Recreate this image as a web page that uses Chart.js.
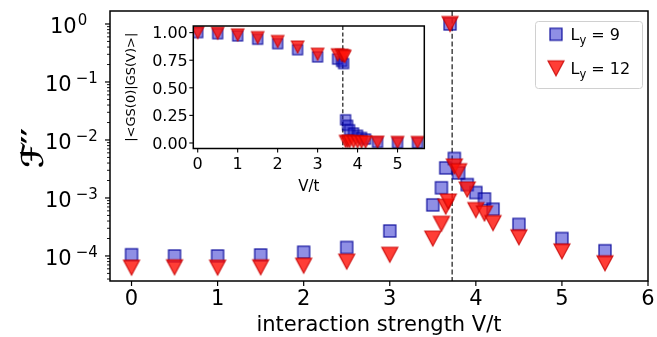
<!DOCTYPE html>
<html>
<head>
<meta charset="utf-8">
<script src="https://cdn.jsdelivr.net/npm/chart.js@4/dist/chart.umd.min.js"></script>
<style>
  html, body { margin:0; padding:0; background:#fff; }
  #wrap { position:relative; width:657px; height:337px; }
  #main  { position:absolute; left:0; top:0; }
  #inset { position:absolute; left:118px; top:18px; }
</style>
</head>
<body>
<div id="wrap">
  <canvas id="main" width="657" height="337"></canvas>
  <canvas id="inset" width="315" height="182"></canvas>
</div>
<script>
// ── data ───────────────────────────────────────────────────────────────────
const V_LY9  = [0, 0.5, 1, 1.5, 2, 2.5, 3, 3.5, 3.6, 3.65, 3.7, 3.75, 3.8, 3.9, 4.0, 4.1, 4.2, 4.5, 5, 5.5];
const F_LY9  = [1.05e-4, 1.0e-4, 1.0e-4, 1.04e-4, 1.16e-4, 1.4e-4, 2.7e-4, 7.6e-4, 1.5e-3, 3.3e-3, 1.0,
                4.8e-3, 2.7e-3, 1.7e-3, 1.24e-3, 9.6e-4, 6.4e-4, 3.5e-4, 2.0e-4, 1.23e-4];
const V_LY12 = [0, 0.5, 1, 1.5, 2, 2.5, 3, 3.5, 3.6, 3.65, 3.68, 3.7, 3.75, 3.8, 3.9, 4.0, 4.1, 4.2, 4.5, 5, 5.5];
const F_LY12 = [6.3e-5, 6.4e-5, 6.3e-5, 6.4e-5, 6.8e-5, 8.0e-5, 1.05e-4, 2.0e-4, 3.6e-4, 7.1e-4, 8.7e-4, 1.0,
                3.5e-3, 2.9e-3, 1.4e-3, 6.2e-4, 5.4e-4, 3.7e-4, 2.1e-4, 1.2e-4, 7.5e-5];

// inset: |<GS(0)|GS(V)>|
const GS_LY9  = [1.00, 0.99, 0.97, 0.94, 0.90, 0.845, 0.78, 0.76, 0.74, 0.72, 0.21,
                 0.16, 0.12, 0.09, 0.07, 0.05, 0.035, 0.006, 0.002, 0.001];
const GS_LY12 = [1.00, 0.995, 0.98, 0.955, 0.92, 0.87, 0.805, 0.80, 0.795, 0.79, 0.785, 0.015,
                 0.014, 0.013, 0.012, 0.011, 0.010, 0.010, 0.008, 0.006, 0.005];

const V_CRIT_MAIN  = 3.725;
const V_CRIT_INSET = 3.63;

const X_TICKS    = [0, 1, 2, 3, 4, 5, 6];
const Y_DECADES  = [-4, -3, -2, -1, 0];
const XI_TICKS   = [0, 1, 2, 3, 4, 5];
const YI_TICKS   = [0, 0.25, 0.5, 0.75, 1];
const YI_LABELS  = ['0.00', '0.25', '0.50', '0.75', '1.00'];
const SERIES     = ['9', '12'];

// ── styles ─────────────────────────────────────────────────────────────────
const FONT     = '"DejaVu Sans"';
const SQ_FACE  = 'rgba(20,20,200,0.48)';
const SQ_EDGE  = 'rgba(0,0,150,0.85)';
const TR_FACE  = 'rgba(255,20,10,0.82)';
const TR_EDGE  = 'rgba(200,0,0,0.85)';
Chart.defaults.font.family = 'DejaVu Sans';

function makeSquare(side, lw) {
  const s = Math.ceil(side + lw + 4);
  const c = document.createElement('canvas'); c.width = c.height = s;
  const g = c.getContext('2d'), o = (s - side) / 2;
  g.fillStyle = SQ_FACE; g.fillRect(o, o, side, side);
  g.strokeStyle = SQ_EDGE; g.lineWidth = lw; g.strokeRect(o, o, side, side);
  return c;
}
function makeTri(w, h, lw) {
  const cw = Math.ceil(w + lw + 4), ch = Math.ceil(h + lw + 4);
  const c = document.createElement('canvas'); c.width = cw; c.height = ch;
  const g = c.getContext('2d');
  g.beginPath();
  g.moveTo(cw/2 - w/2, ch/2 - h/2); g.lineTo(cw/2 + w/2, ch/2 - h/2); g.lineTo(cw/2, ch/2 + h/2);
  g.closePath();
  g.fillStyle = TR_FACE; g.fill();
  g.strokeStyle = TR_EDGE; g.lineWidth = lw; g.lineJoin = 'miter'; g.stroke();
  return c;
}
const SQ_BIG = makeSquare(12, 1.3), TR_BIG = makeTri(16, 15, 1.2);
const SQ_SM  = makeSquare(10, 1.2), TR_SM  = makeTri(12.5, 12, 1.1);

const pts = (xs, ys) => xs.map((v, i) => ({ x: v, y: ys[i] }));

function vline(ctx, a, px, dash) {
  ctx.save();
  ctx.strokeStyle = '#454545'; ctx.lineWidth = 1.5; ctx.setLineDash(dash);
  ctx.beginPath(); ctx.moveTo(px, a.top); ctx.lineTo(px, a.bottom); ctx.stroke();
  ctx.restore();
}

// ── main plot decorations ──────────────────────────────────────────────────
const mainDecor = {
  id: 'mainDecor',
  beforeDatasetsDraw(chart) {
    const { ctx, chartArea: a, scales: { x } } = chart;
    vline(ctx, a, x.getPixelForValue(V_CRIT_MAIN), [5, 2.6]);
  },
  afterDraw(chart) {
    const { ctx, chartArea: a, scales: { x, y } } = chart;
    ctx.save();
    ctx.fillStyle = '#000'; ctx.strokeStyle = '#000';

    // ticks
    ctx.lineWidth = 1.2;
    X_TICKS.forEach(t => {
      const px = x.getPixelForValue(t);
      ctx.beginPath(); ctx.moveTo(px, a.bottom); ctx.lineTo(px, a.bottom + 5); ctx.stroke();
    });
    Y_DECADES.forEach(d => {
      const py = y.getPixelForValue(Math.pow(10, d));
      ctx.beginPath(); ctx.moveTo(a.left, py); ctx.lineTo(a.left - 5, py); ctx.stroke();
    });
    ctx.lineWidth = 0.9;
    for (let d = -5; d <= 0; d++) {
      for (let m = 2; m <= 9; m++) {
        const v = m * Math.pow(10, d);
        if (v < y.min || v > y.max) continue;
        const py = y.getPixelForValue(v);
        ctx.beginPath(); ctx.moveTo(a.left, py); ctx.lineTo(a.left - 3, py); ctx.stroke();
      }
    }

    // frame
    ctx.lineWidth = 1.5;
    ctx.strokeRect(a.left, a.top, a.right - a.left, a.bottom - a.top);

    // x tick labels
    ctx.font = '21px ' + FONT; ctx.textAlign = 'center'; ctx.textBaseline = 'alphabetic';
    X_TICKS.forEach(t => ctx.fillText(String(t), x.getPixelForValue(t), a.bottom + 24));

    // y tick labels 10^d
    ctx.textAlign = 'left';
    Y_DECADES.forEach(d => {
      const py = y.getPixelForValue(Math.pow(10, d));
      const x0 = d === 0 ? 50 : 45;
      ctx.font = '21px ' + FONT;
      ctx.fillText('10', x0, py + 9);
      const w = ctx.measureText('10').width;
      ctx.font = '15px ' + FONT;
      ctx.fillText(d === 0 ? '0' : '\u2212' + (-d), x0 + w + (d === 0 ? 1 : 4), py + 1);
    });

    // axis titles
    ctx.font = '21px ' + FONT; ctx.textAlign = 'center';
    ctx.fillText('interaction strength V/t', (a.left + a.right) / 2, 331);
    ctx.save();
    ctx.translate(35, 148);
    ctx.rotate(-Math.PI / 2);
    ctx.font = 'bold 30px ' + FONT; ctx.textBaseline = 'middle';
    ctx.fillText('\u2131\u2032\u2032', 0, 0);
    ctx.restore();

    // legend
    const L = { x: 535, y: 21, w: 107, h: 67 };
    ctx.beginPath(); ctx.roundRect(L.x + 0.5, L.y + 0.5, L.w, L.h, 3);
    ctx.fillStyle = 'rgba(255,255,255,0.85)'; ctx.fill();
    ctx.strokeStyle = '#d0d0d0'; ctx.lineWidth = 1; ctx.stroke();
    const marks = [SQ_BIG, TR_BIG];
    SERIES.forEach((s, i) => {
      const cy = 34.3 + i * 34, m = marks[i];
      ctx.drawImage(m, 556 - m.width / 2, cy - m.height / 2);
      ctx.fillStyle = '#000'; ctx.textAlign = 'left';
      ctx.font = '16px ' + FONT;
      let tx = 570.5;
      ctx.fillText('L', tx, cy + 5.5); tx += ctx.measureText('L').width;
      ctx.font = '11.5px ' + FONT;
      ctx.fillText('y', tx, cy + 10); tx += ctx.measureText('y').width;
      ctx.font = '16px ' + FONT;
      ctx.fillText(' = ' + s, tx, cy + 5.5);
    });
    ctx.restore();
  }
};

new Chart(document.getElementById('main'), {
  type: 'scatter',
  data: {
    datasets: [
      { label: 'Ly = 9',  data: pts(V_LY9,  F_LY9),  pointStyle: SQ_BIG, pointRadius: 8, pointHoverRadius: 8, order: 1 },
      { label: 'Ly = 12', data: pts(V_LY12, F_LY12), pointStyle: TR_BIG, pointRadius: 8, pointHoverRadius: 8, order: 0 },
    ],
  },
  options: {
    responsive: false, animation: false, devicePixelRatio: 1,
    layout: { padding: { left: 110, right: 6, top: 11, bottom: 56 } },
    plugins: { legend: { display: false }, tooltip: { enabled: false } },
    scales: {
      x: { type: 'linear', min: -0.25, max: 6, display: false },
      y: { type: 'logarithmic', min: 3.7e-5, max: 1.675, display: false },
    },
  },
  plugins: [mainDecor],
});

// ── inset ──────────────────────────────────────────────────────────────────
const insetDecor = {
  id: 'insetDecor',
  beforeDatasetsDraw(chart) {
    const { ctx, chartArea: a, scales: { x } } = chart;
    ctx.save(); ctx.fillStyle = '#fff';
    ctx.fillRect(a.left, a.top, a.right - a.left, a.bottom - a.top);
    ctx.restore();
    vline(ctx, a, x.getPixelForValue(V_CRIT_INSET), [4, 2.4]);
  },
  afterDraw(chart) {
    const { ctx, chartArea: a, scales: { x, y } } = chart;
    ctx.save();
    ctx.fillStyle = '#000'; ctx.strokeStyle = '#000'; ctx.lineWidth = 1.1;
    XI_TICKS.forEach(t => {
      const px = x.getPixelForValue(t);
      ctx.beginPath(); ctx.moveTo(px, a.bottom); ctx.lineTo(px, a.bottom + 4); ctx.stroke();
    });
    YI_TICKS.forEach(t => {
      const py = y.getPixelForValue(t);
      ctx.beginPath(); ctx.moveTo(a.left, py); ctx.lineTo(a.left - 4, py); ctx.stroke();
    });
    ctx.lineWidth = 1.5;
    ctx.strokeRect(a.left, a.top, a.right - a.left, a.bottom - a.top);

    ctx.font = '16px ' + FONT; ctx.textBaseline = 'alphabetic';
    ctx.textAlign = 'center';
    XI_TICKS.forEach(t => ctx.fillText(String(t), x.getPixelForValue(t), a.bottom + 20));
    ctx.textAlign = 'right';
    YI_TICKS.forEach((t, i) => ctx.fillText(YI_LABELS[i], a.left - 5.5, y.getPixelForValue(t) + 5.8));

    ctx.textAlign = 'center';
    ctx.font = '15px ' + FONT;
    ctx.fillText('V/t', (a.left + a.right) / 2, a.bottom + 42);
    ctx.save();
    ctx.translate(a.left - 61.6, (a.top + a.bottom) / 2);
    ctx.rotate(-Math.PI / 2);
    ctx.font = '13px ' + FONT; ctx.textBaseline = 'middle';
    ctx.fillText('|<GS(0)|GS(V)>|', 0, 0);
    ctx.restore();
    ctx.restore();
  }
};

new Chart(document.getElementById('inset'), {
  type: 'scatter',
  data: {
    datasets: [
      { label: 'Ly = 9',  data: pts(V_LY9,  GS_LY9),  pointStyle: SQ_SM, pointRadius: 7, pointHoverRadius: 7, order: 1 },
      { label: 'Ly = 12', data: pts(V_LY12, GS_LY12), pointStyle: TR_SM, pointRadius: 7, pointHoverRadius: 7, order: 0 },
    ],
  },
  options: {
    responsive: false, animation: false, devicePixelRatio: 1,
    layout: { padding: { left: 75.3, right: 8.7, top: 7.5, bottom: 51.5 } },
    plugins: { legend: { display: false }, tooltip: { enabled: false } },
    scales: {
      x: { type: 'linear', min: -0.11, max: 5.67, display: false },
      y: { type: 'linear', min: -0.05, max: 1.06, display: false },
    },
  },
  plugins: [insetDecor],
});
</script>
</body>
</html>
